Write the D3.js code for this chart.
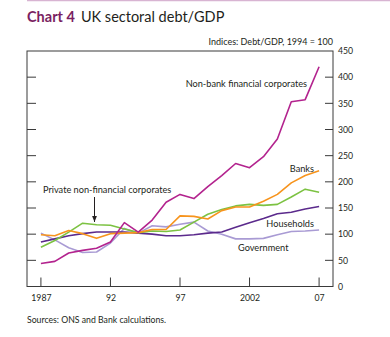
<!DOCTYPE html>
<html>
<head>
<meta charset="utf-8">
<script src="https://cdn.jsdelivr.net/npm/d3@7"></script>
<style>
  body { margin: 0; background: #fff; }
  svg { display: block; font-family: Lato, "Open Sans", sans-serif; }
</style>
</head>
<body>
<div id="chart"></div>
<script>
// Annual index values, debt/GDP with 1994 = 100
const years = d3.range(1987, 2008);
const nonBankFinancial = [44, 48, 64, 69, 73, 85, 122, 104, 127, 161, 176, 168, 191, 212, 235, 227, 248, 282, 353, 357, 420];
const banks = [99, 97, 107, 101, 92, 101, 102, 103, 109, 109, 135, 134, 129, 145, 152, 152, 163, 176, 198, 212, 221];
const privateNonFinancial = [75, 88, 104, 121, 118, 117, 110, 103, 106, 105, 108, 123, 138, 147, 154, 157, 155, 157, 171, 186, 180];
const households = [85, 91, 97, 101, 104, 104, 104, 102, 100, 97, 97, 99, 102, 104, 113, 122, 130, 139, 142, 148, 153];
const government = [102, 89, 74, 65, 66, 83, 111, 102, 116, 114, 119, 123, 106, 100, 91, 91, 92, 99, 105, 106, 108];

const yTicks = [0, 50, 100, 150, 200, 250, 300, 350, 400, 450];
const xTicks = [1987, 1992, 1997, 2002, 2007];
const xTickLabels = ["1987", "92", "97", "2002", "07"];

const WIDTH = 390, HEIGHT = 337;
const PLOT_LEFT = 27, PLOT_RIGHT = 333, PLOT_TOP = 51, PLOT_BOTTOM = 286.5;

const svg = d3.select("#chart").append("svg")
    .attr("width", WIDTH)
    .attr("height", HEIGHT);

const x = d3.scaleLinear().domain([1986, 2008]).range([PLOT_LEFT, PLOT_RIGHT]);
const y = d3.scaleLinear().domain([0, 450]).range([PLOT_BOTTOM, PLOT_TOP]);

// thin rule across the top of the page
svg.append("line")
    .attr("x1", PLOT_LEFT).attr("x2", WIDTH)
    .attr("y1", 0.5).attr("y2", 0.5)
    .attr("stroke", "#d8b4d2").attr("stroke-width", 1.5);

// title
const title = svg.append("text")
    .attr("x", PLOT_LEFT).attr("y", 22)
    .attr("font-size", "14.5px");
title.append("tspan").attr("fill", "#7a1f62").attr("font-weight", "bold").text("Chart 4");
title.append("tspan").attr("fill", "#231f20").attr("dx", 6).text("UK sectoral debt/GDP");

svg.append("text")
    .attr("x", PLOT_RIGHT).attr("y", 45)
    .attr("text-anchor", "end")
    .attr("font-size", "9px")
    .attr("fill", "#231f20")
    .text("Indices:  Debt/GDP, 1994 = 100");

// frame
svg.append("rect")
    .attr("x", PLOT_LEFT).attr("y", PLOT_TOP)
    .attr("width", PLOT_RIGHT - PLOT_LEFT).attr("height", PLOT_BOTTOM - PLOT_TOP)
    .attr("fill", "none")
    .attr("stroke", "#3a3a3a").attr("stroke-width", 1);

// right axis labels; ticks point inward, mirrored on the left edge
const yAxis = d3.axisRight(y).tickValues(yTicks).tickSize(0).tickPadding(5);
svg.append("g")
    .attr("transform", `translate(${PLOT_RIGHT},0)`)
    .call(yAxis)
    .call(g => g.select(".domain").remove())
    .call(g => g.selectAll("text").attr("font-size", "8.7px").attr("fill", "#231f20").attr("font-family", "Lato, sans-serif"));

const innerTicks = yTicks.filter(d => d > 0 && d < 450);
svg.append("g").selectAll("line")
    .data(innerTicks).join("line")
    .attr("x1", PLOT_RIGHT - 8).attr("x2", PLOT_RIGHT)
    .attr("y1", d => y(d)).attr("y2", d => y(d))
    .attr("stroke", "#3a3a3a");
svg.append("g").selectAll("line")
    .data(innerTicks).join("line")
    .attr("x1", PLOT_LEFT).attr("x2", PLOT_LEFT + 9)
    .attr("y1", d => y(d)).attr("y2", d => y(d))
    .attr("stroke", "#3a3a3a");

// bottom axis, ticks pointing up into the plot
const xAxis = d3.axisBottom(x).tickValues(xTicks)
    .tickFormat((d, i) => xTickLabels[i])
    .tickSize(0).tickPadding(8);
svg.append("g")
    .attr("transform", `translate(0,${PLOT_BOTTOM})`)
    .call(xAxis)
    .call(g => g.select(".domain").remove())
    .call(g => g.selectAll("text").attr("font-size", "8.7px").attr("fill", "#231f20").attr("font-family", "Lato, sans-serif"));
svg.append("g").selectAll("line")
    .data(xTicks).join("line")
    .attr("x1", d => x(d)).attr("x2", d => x(d))
    .attr("y1", PLOT_BOTTOM).attr("y2", PLOT_BOTTOM - 9)
    .attr("stroke", "#3a3a3a");

// series, drawn back to front
const series = [
    { values: government, color: "#a99bd4" },
    { values: households, color: "#5b2a8c" },
    { values: privateNonFinancial, color: "#7cc242" },
    { values: banks, color: "#f7941d" },
    { values: nonBankFinancial, color: "#b3238e" }
];
const line = d3.line().x((d, i) => x(years[i])).y(d => y(d));
svg.append("g").selectAll("path")
    .data(series).join("path")
    .attr("d", d => line(d.values))
    .attr("fill", "none")
    .attr("stroke", d => d.color)
    .attr("stroke-width", 1.6)
    .attr("stroke-linejoin", "round");

// series labels
const labels = [
    { text: "Non-bank financial corporates", x: 307, y: 87, anchor: "end" },
    { text: "Banks", x: 314, y: 172, anchor: "end" },
    { text: "Private non-financial corporates", x: 43, y: 193, anchor: "start" },
    { text: "Households", x: 314, y: 227, anchor: "end" },
    { text: "Government", x: 238, y: 251, anchor: "start" }
];
svg.append("g").selectAll("text")
    .data(labels).join("text")
    .attr("x", d => d.x).attr("y", d => d.y)
    .attr("text-anchor", d => d.anchor)
    .attr("font-size", "9.2px")
    .attr("fill", "#231f20")
    .text(d => d.text);

// arrow from the corporates label down to its line
svg.append("defs").append("marker")
    .attr("id", "arrow")
    .attr("viewBox", "0 0 10 10")
    .attr("refX", 10).attr("refY", 5)
    .attr("markerWidth", 6).attr("markerHeight", 6)
    .attr("orient", "auto")
    .append("path").attr("d", "M0,1 L10,5 L0,9 Z").attr("fill", "#231f20");
svg.append("line")
    .attr("x1", 94.5).attr("x2", 94.5)
    .attr("y1", 197).attr("y2", 222)
    .attr("stroke", "#231f20").attr("stroke-width", 1)
    .attr("marker-end", "url(#arrow)");

svg.append("text")
    .attr("x", PLOT_LEFT).attr("y", 323)
    .attr("font-size", "8.7px")
    .attr("fill", "#231f20")
    .text("Sources:  ONS and Bank calculations.");
</script>
</body>
</html>
